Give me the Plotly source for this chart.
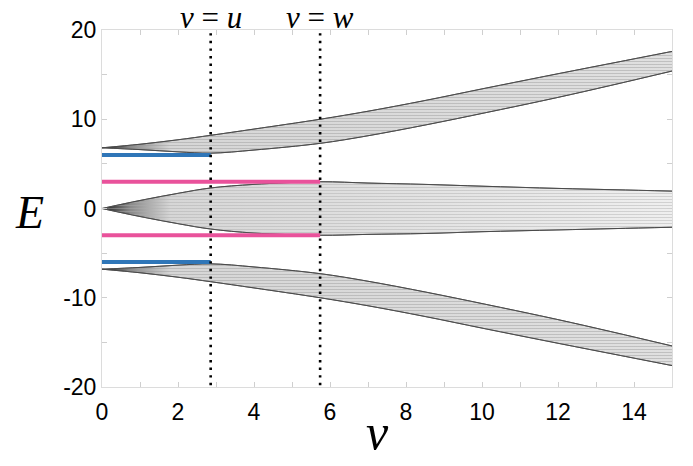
import plotly.graph_objects as go

# ---- data ----
v_pts = [0, 1, 2, 2.86, 4, 5.74, 7, 8.5, 10, 12, 13.5, 15]

upper_top = [6.8, 7.2, 7.7, 8.2, 8.9, 10.0, 10.9, 12.1, 13.4, 15.1, 16.35, 17.6]
upper_bot = [6.8, 6.6, 6.35, 6.2, 6.55, 7.3, 8.15, 9.35, 10.65, 12.45, 13.9, 15.4]

mid_top = [0, 0.9, 1.7, 2.3, 2.7, 3.0, 2.85, 2.7, 2.5, 2.25, 2.1, 1.95]
mid_bot = [0, -0.9, -1.7, -2.3, -2.75, -3.0, -2.9, -2.8, -2.6, -2.4, -2.25, -2.1]

lower_top = [-6.8, -6.6, -6.35, -6.2, -6.55, -7.3, -8.15, -9.35, -10.65, -12.45, -13.9, -15.4]
lower_bot = [-6.8, -7.2, -7.7, -8.2, -8.9, -10.0, -10.9, -12.1, -13.4, -15.1, -16.35, -17.6]

v_u = 2.86          # position of v = u
v_w = 5.74          # position of v = w
blue_E = [6.0, -6.0]    # edge states existing for v < u
pink_E = [3.0, -3.0]    # edge states existing for v < w

x_ticks = [0, 2, 4, 6, 8, 10, 12, 14]
y_ticks = [-20, -10, 0, 10, 20]
y_ticklabels = ["-20", "-10", "0", "10", "20"]

BLUE = "#2f76b8"
PINK = "#e9529b"
EDGE = "#4a4a4a"

fig = go.Figure()


def add_band(top, bot, base, stripe):
    # base fill: darker where the levels converge near v = 0
    fig.add_trace(go.Scatter(
        x=v_pts, y=bot, mode="lines", line=dict(color=EDGE, width=1, shape="spline"),
        hoverinfo="skip", showlegend=False))
    fig.add_trace(go.Scatter(
        x=v_pts, y=top, mode="lines", line=dict(color=EDGE, width=1, shape="spline"),
        fill="tonexty",
        fillgradient=dict(type="horizontal",
                          colorscale=[[0, "#1e1e1e"], [0.05, "#8a8a8a"], [0.12, "#d6d6d6"],
                                      [1, base]]),
        hoverinfo="skip", showlegend=False))
    # stripe texture of the many individual levels
    fig.add_trace(go.Scatter(
        x=v_pts, y=bot, mode="lines", line=dict(color=EDGE, width=0.8, shape="spline"),
        hoverinfo="skip", showlegend=False))
    fig.add_trace(go.Scatter(
        x=v_pts, y=top, mode="lines", line=dict(color=EDGE, width=0.8, shape="spline"),
        fill="tonexty", fillcolor="rgba(0,0,0,0)",
        fillpattern=dict(shape="-", fgcolor=stripe, bgcolor="rgba(0,0,0,0)",
                         size=3, solidity=0.3),
        hoverinfo="skip", showlegend=False))


add_band(upper_top, upper_bot, "#e0e0e0", "#9a9a9a")
add_band(mid_top, mid_bot, "#efefef", "#adadad")
add_band(lower_top, lower_bot, "#e0e0e0", "#9a9a9a")

for e in blue_E:
    fig.add_trace(go.Scatter(x=[0, v_u], y=[e, e], mode="lines",
                             line=dict(color=BLUE, width=4), showlegend=False, hoverinfo="skip"))
for e in pink_E:
    fig.add_trace(go.Scatter(x=[0, v_w], y=[e, e], mode="lines",
                             line=dict(color=PINK, width=4), showlegend=False, hoverinfo="skip"))

for xv in [v_u, v_w]:
    fig.add_trace(go.Scatter(x=[xv, xv], y=[-19.8, 19.7], mode="lines",
                             line=dict(color="black", width=2.6, dash="2.4px,5.2px"),
                             showlegend=False, hoverinfo="skip"))

axis_common = dict(
    showline=True, linecolor="#dcdcdc", linewidth=1, mirror="ticks",
    ticks="inside", ticklen=5, tickcolor="#cfcfcf", tickwidth=1,
    showgrid=False, zeroline=False,
    tickfont=dict(family="Liberation Sans, Arial, sans-serif", size=23, color="black"),
)

fig.update_xaxes(range=[0, 15], tickvals=x_ticks, ticktext=[str(t) for t in x_ticks],
                 minor=dict(dtick=1, ticks="inside", ticklen=5, tickcolor="#cfcfcf"),
                 ticklabelstandoff=4,
                 **axis_common)
fig.update_yaxes(range=[-20, 20], tickvals=y_ticks, ticktext=y_ticklabels,
                 minor=dict(dtick=5, ticks="inside", ticklen=5, tickcolor="#cfcfcf"),
                 **axis_common)

serif = "Liberation Serif, DejaVu Serif, serif"
annotations = [
    dict(text="<i>E</i>", x=-0.128, y=0.49, xref="paper", yref="paper",
         xanchor="center", yanchor="middle",
         showarrow=False, font=dict(family=serif, size=46, color="black")),
    dict(text="<i>v</i>", x=0.483, y=-0.21, xref="paper", yref="paper",
         xanchor="center", yanchor="bottom",
         showarrow=False, font=dict(family=serif, size=50, color="black")),
    dict(text="<i>v</i> = <i>u</i>", x=v_u, y=1.035, xref="x", yref="paper",
         xanchor="center", yanchor="middle",
         showarrow=False, font=dict(family=serif, size=31, color="black")),
    dict(text="<i>v</i> = <i>w</i>", x=v_w, y=1.035, xref="x", yref="paper",
         xanchor="center", yanchor="middle",
         showarrow=False, font=dict(family=serif, size=31, color="black")),
]

fig.update_layout(
    width=693, height=466,
    margin=dict(l=102, r=21, t=30, b=79),
    paper_bgcolor="white", plot_bgcolor="white",
    annotations=annotations,
    showlegend=False,
)

fig.write_html("out.html", config={"displayModeBar": False},
               post_script="document.body.style.margin='0';document.body.style.overflow='hidden';")
